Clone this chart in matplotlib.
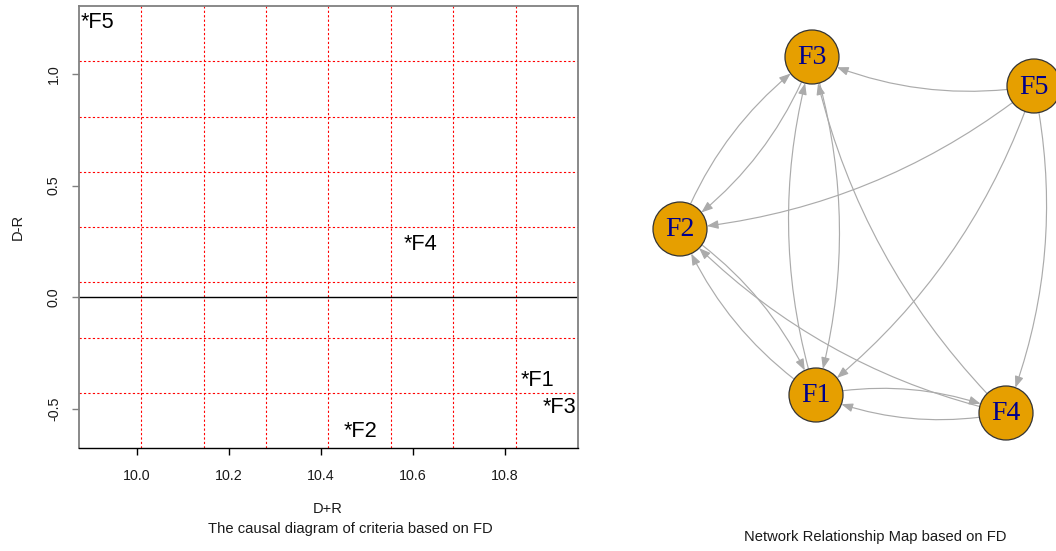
import matplotlib
matplotlib.use("Agg")
import matplotlib.pyplot as plt
from matplotlib.patches import Circle, FancyArrowPatch

# ---------------- data ----------------
criteria = ["F1", "F2", "F3", "F4", "F5"]
d_plus_r = [10.870, 10.487, 10.918, 10.616, 9.915]
d_minus_r = [-0.375, -0.603, -0.496, 0.237, 1.232]
x_ticks = [10.0, 10.2, 10.4, 10.6, 10.8]
y_ticks = [-0.5, 0.0, 0.5, 1.0]

# network layout (node positions in figure-pixel layout space)
net_nodes = ["F1", "F2", "F3", "F4", "F5"]
net_x = [816, 680, 812, 1006, 1034]
net_y = [395, 229, 57, 413, 86]
edge_from = ["F5", "F5", "F5", "F5", "F4", "F4", "F4", "F1", "F1", "F3", "F2", "F3", "F2", "F1"]
edge_to   = ["F3", "F2", "F1", "F4", "F3", "F2", "F1", "F4", "F3", "F1", "F3", "F2", "F1", "F2"]

W, H, DPI = 1056, 551, 100
plt.rcParams['font.family'] = ['Liberation Sans', 'DejaVu Sans']

fig = plt.figure(figsize=(W / DPI, H / DPI), dpi=DPI)
fig.patch.set_facecolor("white")

# ---------------- network (right) ----------------
axn = fig.add_axes([0, 0, 1, 1])
axn.set_xlim(0, W)
axn.set_ylim(H, 0)
axn.set_aspect("equal")
axn.axis("off")
axn.patch.set_visible(False)

pos = {n: (x, y) for n, x, y in zip(net_nodes, net_x, net_y)}
node_r = 27
shrink_pt = node_r * 72 / DPI
for a, b in zip(edge_from, edge_to):
    arr = FancyArrowPatch(pos[a], pos[b],
                          connectionstyle="arc3,rad=-0.15",
                          arrowstyle="-|>,head_length=0.34,head_width=0.13",
                          mutation_scale=20, color="#ABABAB", lw=0.85,
                          shrinkA=shrink_pt, shrinkB=shrink_pt, zorder=1)
    axn.add_patch(arr)

for n in net_nodes:
    x, y = pos[n]
    axn.add_patch(Circle((x, y), node_r, facecolor="#E69F00", edgecolor="#333333",
                         lw=0.9, zorder=2))
    axn.text(x, y + 1, n, ha="center", va="center", fontsize=20, color="#00008B",
             family=["Liberation Serif", "DejaVu Serif"], zorder=3)

fig.text(875 / W, 1 - 537 / H, "Network Relationship Map based on FD",
         ha="center", va="center", fontsize=10.6, color="#1a1a1a")

# ---------------- causal diagram (left) ----------------
L, R_, T, B = 79, 578, 6, 448
ax = fig.add_axes([L / W, 1 - B / H, (R_ - L) / W, (B - T) / H])

xr = max(d_plus_r) - min(d_plus_r)
yr = max(d_minus_r) - min(d_minus_r)
x0, x1 = min(d_plus_r) - 0.04 * xr, max(d_plus_r) + 0.04 * xr
y0, y1 = min(d_minus_r) - 0.04 * yr, max(d_minus_r) + 0.04 * yr
ax.set_xlim(x0, x1)
ax.set_ylim(y0, y1)

for i in range(1, 8):
    ax.axvline(x0 + i * (x1 - x0) / 8, color="red", lw=0.8, ls=(0, (2, 2)), zorder=1)
    ax.axhline(y0 + i * (y1 - y0) / 8, color="red", lw=0.8, ls=(0, (2, 2)), zorder=1)
ax.axhline(0, color="black", lw=1.0, zorder=2)

for name, x, y in zip(criteria, d_plus_r, d_minus_r):
    ax.text(x, y, "*" + name, ha="center", va="center", fontsize=15.7, color="black", zorder=3)

ax.set_xticks(x_ticks)
ax.set_xticklabels([f"{v:.1f}" for v in x_ticks])
ax.set_yticks(y_ticks)
ax.set_yticklabels([f"{v:.1f}" for v in y_ticks], rotation=90, va="center")
ax.tick_params(axis="x", length=5, width=1, color="black", pad=10, labelsize=10.3, labelcolor="#1a1a1a")
ax.tick_params(axis="y", length=5, width=1, color="#808080", pad=8, labelsize=10.3, labelcolor="#1a1a1a")
for s in ["left", "top", "right"]:
    ax.spines[s].set_color("#808080")
    ax.spines[s].set_linewidth(1.3)
ax.spines["bottom"].set_color("black")
ax.spines["bottom"].set_linewidth(1.0)

fig.text(328 / W, 1 - 509 / H, "D+R", ha="center", va="center", fontsize=10.5, color="#1a1a1a")
fig.text(350 / W, 1 - 529 / H, "The causal diagram of criteria based on FD",
         ha="center", va="center", fontsize=10.6, color="#1a1a1a")
fig.text(18 / W, 1 - 227 / H, "D-R", ha="center", va="center", rotation=90,
         fontsize=10.5, color="#1a1a1a")

fig.savefig("out.png", dpi=DPI)
